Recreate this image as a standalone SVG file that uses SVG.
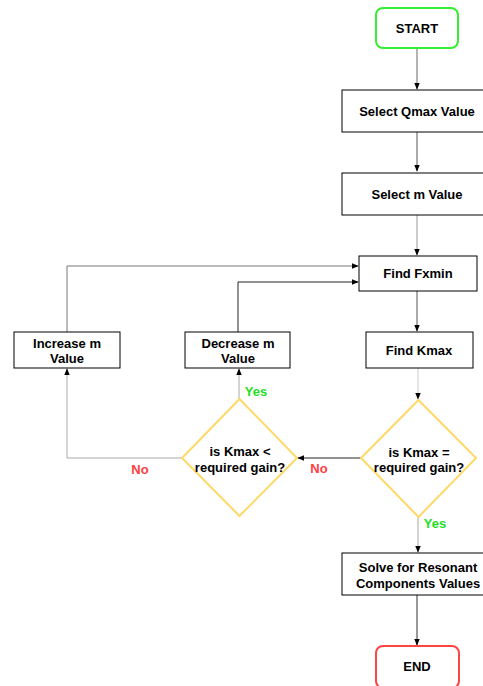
<svg xmlns="http://www.w3.org/2000/svg" width="483" height="686" viewBox="0 0 483 686">
<defs>
<marker id="ah" viewBox="0 0 10 10" refX="9" refY="5" markerWidth="7" markerHeight="7" markerUnits="userSpaceOnUse" orient="auto">
<path d="M0,1 L10,5 L0,9 Z" fill="#000"/>
</marker>
</defs>
<style>
text{font-family:"Liberation Sans",Arial,sans-serif;font-weight:bold;font-size:13px;fill:#000;text-anchor:middle;dominant-baseline:central}
.box{fill:#fff;stroke:#000;stroke-width:1}
.dia{fill:#fff;stroke:#ffd966;stroke-width:2}
.c{fill:none;stroke-width:1;marker-end:url(#ah)}
.yes{fill:#22dd22}
.no{fill:#ff4040}
</style>
<rect width="483" height="686" fill="#fff"/>
<g id="connectors">
<path class="c" stroke="#666" d="M417,48 V89"/>
<path class="c" stroke="#555" d="M417,132 V171"/>
<path class="c" stroke="#999" d="M417,215 V255"/>
<path class="c" stroke="#555" d="M417,291 V331"/>
<path class="c" stroke="#ccc" d="M418,368 V399"/>
<path class="c" stroke="#777" d="M67,332 V266 H358"/>
<path class="c" stroke="#222" d="M238,332 V282 H358"/>
<path class="c" stroke="#222" d="M361,458 H298"/>
<path class="c" stroke="#aaa" d="M182,458 H67 V369"/>
<path class="c" stroke="#aaa" d="M239,399 V369"/>
<path class="c" stroke="#aaa" d="M418,517 V552"/>
<path class="c" stroke="#333" d="M417,595 V645"/>
</g>
<g id="start"><rect x="376" y="8" width="82" height="40" rx="7" fill="#fff" stroke="#33ee33" stroke-width="2"/><text x="417" y="28">START</text></g>
<g id="qmax"><rect class="box" x="342" y="90" width="152" height="42"/><text x="417" y="111">Select Qmax Value</text></g>
<g id="selm"><rect class="box" x="342" y="173" width="152" height="42"/><text x="417" y="194">Select m Value</text></g>
<g id="fxmin"><rect class="box" x="359" y="256" width="118" height="35"/><text x="418" y="273.5">Find Fxmin</text></g>
<g id="kmax"><rect class="box" x="366" y="332" width="107" height="36"/><text x="419" y="350">Find Kmax</text></g>
<g id="inc"><rect class="box" x="14" y="332" width="106" height="36"/><text x="67" y="343">Increase m</text><text x="67" y="358">Value</text></g>
<g id="dec"><rect class="box" x="185" y="332" width="105" height="36"/><text x="238" y="343">Decrease m</text><text x="238" y="358">Value</text></g>
<g id="d1"><path class="dia" d="M239.5,399 L297,458 L239.5,516 L182,458 Z"/><text x="240" y="451">is Kmax &lt;</text><text x="240" y="467">required gain?</text></g>
<g id="d2"><path class="dia" d="M418.5,400 L476,458 L418.5,517 L361,458 Z"/><text x="419" y="452">is Kmax =</text><text x="419" y="467">required gain?</text></g>
<g id="solve"><rect class="box" x="342" y="553" width="152" height="42"/><text x="418" y="567">Solve for Resonant</text><text x="418" y="583">Components Values</text></g>
<g id="end"><rect x="376" y="646" width="83" height="42" rx="7" fill="#fff" stroke="#ff4444" stroke-width="2"/><text x="417" y="666">END</text></g>
<g id="labels">
<text class="yes" x="256" y="391">Yes</text>
<text class="yes" x="435" y="523">Yes</text>
<text class="no" x="140" y="469">No</text>
<text class="no" x="319" y="468">No</text>
</g>
</svg>
